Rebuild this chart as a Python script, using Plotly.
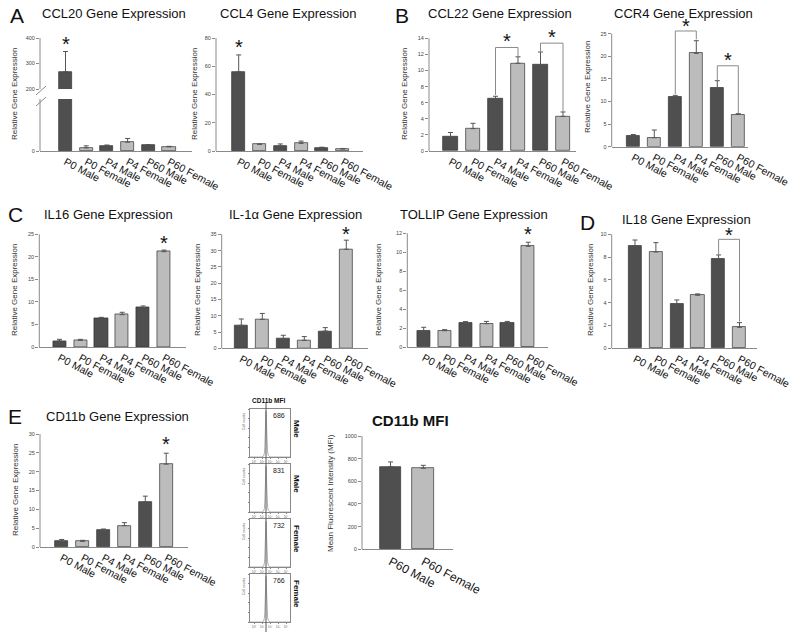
import plotly.graph_objects as go

# group labels
groups = ["P0 Male", "P0 Female", "P4 Male", "P4 Female", "P60 Male", "P60 Female"]
mfi_groups = ["P60 Male", "P60 Female"]

# relative gene expression (mean, sem)
ccl20 = [268, 6, 10, 17, 11.5, 8]
ccl20_sem = [79, 4, 1.5, 7, 1, 1]
ccl4 = [56.1, 4.7, 3.5, 5.4, 2.3, 1.4]
ccl4_sem = [11.9, 0.3, 1.5, 1.6, 0.4, 0.4]
ccl22 = [1.78, 2.78, 6.5, 10.9, 10.7, 4.3]
ccl22_sem = [0.52, 0.66, 0.3, 0.8, 1.6, 0.55]
ccr4 = [2.36, 1.99, 11.06, 20.65, 13.1, 7.15]
ccr4_sem = [0.34, 1.7, 0.3, 2.8, 1.5, 0.15]
il16 = [1.33, 1.48, 6.43, 7.17, 8.73, 21.15]
il16_sem = [0.37, 0.22, 0.15, 0.53, 0.37, 0.35]
il1a = [7.06, 8.9, 2.97, 2.46, 5.3, 30.4]
il1a_sem = [1.94, 1.8, 1.03, 1.14, 1.05, 2.8]
tollip = [1.69, 1.72, 2.6, 2.46, 2.6, 10.63]
tollip_sem = [0.39, 0.11, 0.08, 0.24, 0.1, 0.43]
il18 = [8.98, 8.45, 3.86, 4.65, 7.84, 1.84]
il18_sem = [0.52, 0.82, 0.38, 0.12, 0.35, 0.41]
cd11b = [1.5, 1.5, 4.5, 5.66, 11.95, 22.0]
cd11b_sem = [0.5, 0.27, 0.28, 0.8, 1.55, 2.9]
mfi = [729, 715]
mfi_sem = [42, 26]

# significance: star (category index, y) and brackets (left cat, right cat, left foot, top, right foot)
ccl20_star = [(0, 384)]
ccl4_star = [(0, 75)]
ccl22_star = [(2.5, 13.9), (4.5, 14.4)]
ccl22_brackets = [(2, 3, 6.97, 12.86, 11.74), (4, 5, 12.37, 13.4, 4.9)]
ccr4_star = [(2.5, 27.2), (4.5, 19.6)]
ccr4_brackets = [(2, 3, 11.65, 25.6, 23.75), (4, 5, 14.75, 17.9, 7.37)]
il16_star = [(5, 23.5)]
il1a_star = [(5, 35.8)]
tollip_star = [(5, 12.1)]
il18_star = [(4.5, 10.1)]
il18_brackets = [(4, 5, 8.25, 9.56, 2.34)]
cd11b_star = [(5, 28)]

# flow cytometry histograms (CD11b MFI)
flow_mfi = ["686", "831", "732", "766"]
flow_sex = ["Male", "Male", "Female", "Female"]
hist_channel = [0, 30, 34, 36, 37, 38, 39, 40, 41, 42, 43, 44, 46, 50, 100]
hist_counts = [0, 0, 2, 8, 20, 45, 75, 95, 80, 50, 25, 10, 3, 0, 0]

# the page body keeps its default 8px margin, so lay out on a 792x625 canvas
OFF = 8
W, H = 800 - OFF, 633 - OFF
FONT = "Arial, Liberation Sans, sans-serif"
DARK = "#4f4f4f"
LIGHT = "#bcbcbc"
AX = "#8a8a8a"

fig = go.Figure()
annos = []
shapes = []


def sid(n):
    return "" if n == 1 else str(n)


def px(x):
    return (x - OFF) / W


def py(y):
    return 1 - (y - OFF) / H


def line(x0, y0, x1, y1, color=AX, width=1):
    shapes.append(dict(type="line", xref="paper", yref="paper", x0=px(x0), y0=py(y0), x1=px(x1), y1=py(y1),
                       line=dict(color=color, width=width)))


def bar_trace(n, cats, vals, sems, yn=None, width=0.63):
    cols = [LIGHT if "Female" in c else DARK for c in cats]
    return go.Bar(
        x=cats, y=vals, xaxis="x" + sid(n), yaxis="y" + sid(yn or n),
        width=width, marker=dict(color=cols, line=dict(color="#333", width=0.7)),
        error_y=dict(type="data", symmetric=False, array=sems, arrayminus=[0] * len(sems),
                     color="#555", thickness=1, width=2.5),
        showlegend=False, hoverinfo="skip")


def x_axis(n, cats, left, c0, sp, right, yanchor, size=10.5):
    fig.layout["xaxis" + sid(n)] = dict(
        domain=[px(left), px(right)], range=[(left - c0) / sp, (right - c0) / sp],
        type="category", categoryarray=cats, anchor="y" + sid(yanchor), automargin=False,
        showline=True, linecolor=AX, linewidth=1, ticks="", showgrid=False, zeroline=False,
        tickangle=28, tickfont=dict(family=FONT, size=size, color="#111"), fixedrange=True)


def y_axis(n, xanchor, left, top, bottom, ymin, ymax, dtick, ext=None, tickvals=None):
    # top/bottom: pixel rows of ymax/ymin; ext: extra head-room above the last tick
    ext = ext or ymax
    scale = (bottom - top) / (ymax - ymin)
    dom_top = bottom - (ext - ymin) * scale
    d = dict(domain=[py(bottom), py(dom_top)], range=[ymin, ext], anchor="x" + sid(xanchor),
             automargin=False, showline=False, ticks="outside", ticklen=3,
             tickcolor=AX, tickwidth=1, dtick=dtick, showgrid=False, zeroline=False,
             tickfont=dict(family=FONT, size=5.5, color="#444"), fixedrange=True)
    if tickvals is not None:
        d["tickvals"] = tickvals
    fig.layout["yaxis" + sid(n)] = d
    line(left, bottom, left, top)


def stars(n, lst, yn=None):
    for xi, yv in lst:
        annos.append(dict(x=xi, y=yv, xref="x" + sid(n), yref="y" + sid(yn or n), text="*",
                          showarrow=False, font=dict(family=FONT, size=20, color="#111"),
                          yanchor="middle", yshift=-2))


def brackets(n, cats, lst):
    for a, b, ya, top, yb in lst:
        fig.add_trace(go.Scatter(
            x=[cats[a], cats[a], cats[b], cats[b]], y=[ya, top, top, yb],
            xaxis="x" + sid(n), yaxis="y" + sid(n), mode="lines",
            line=dict(color="#8a8a8a", width=1), showlegend=False, hoverinfo="skip"))


def text(x, y, s, size, angle=0, bold=False, color="#111", xanchor="center"):
    if bold:
        s = "<b>" + s + "</b>"
    annos.append(dict(x=px(x), y=py(y), xref="paper", yref="paper", text=s, showarrow=False,
                      textangle=angle, xanchor=xanchor, yanchor="middle",
                      font=dict(family=FONT, size=size, color=color)))


def panel(n, vals, sems, left, c0, sp, right, top, bottom, ymax, dtick, ext, star, br=None):
    fig.add_trace(bar_trace(n, groups, vals, sems))
    x_axis(n, groups, left, c0, sp, right, n)
    y_axis(n, n, left, top, bottom, 0, ymax, dtick, ext)
    stars(n, star)
    if br:
        brackets(n, groups, br)


# --- A: CCL20 with broken axis (lower 1, upper 11)
fig.add_trace(bar_trace(1, groups, ccl20, ccl20_sem))
fig.add_trace(bar_trace(1, groups, ccl20, ccl20_sem, yn=11))
x_axis(1, groups, 40, 65.5, 20.7, 192, 1)
y_axis(1, 1, 40, 99, 151, 0, 100, None, tickvals=[0])
y_axis(11, 1, 40, 38, 89, 200, 400, 100)
stars(1, ccl20_star, yn=11)
line(36, 95, 46, 86)
line(36, 106, 46, 97)

# CCL4
panel(2, ccl4, ccl4_sem, 216, 238.7, 20.8, 363, 38, 151, 80, 20, 80, ccl4_star)
# B: CCL22, CCR4
panel(3, ccl22, ccl22_sem, 429, 450.5, 22.5, 576, 38.3, 151, 14, 2, 15.2, ccl22_star, ccl22_brackets)
panel(4, ccr4, ccr4_sem, 611.7, 633.3, 21, 748, 33.7, 146.7, 25, 5, 28.5, ccr4_star, ccr4_brackets)
# C: IL16, IL-1a, TOLLIP
panel(5, il16, il16_sem, 39.3, 59.5, 20.9, 186, 234.3, 347, 25, 5, 25, il16_star)
panel(6, il1a, il1a_sem, 221.7, 241.3, 21, 368, 234.3, 348.3, 35, 5, 38, il1a_star)
panel(7, tollip, tollip_sem, 407.3, 423.7, 20.9, 548, 233.3, 347, 12, 2, 13, tollip_star)
# D: IL18
panel(8, il18, il18_sem, 611.7, 635, 20.9, 757, 234.3, 348.3, 10, 2, 11, il18_star, il18_brackets)
# E: CD11b
panel(9, cd11b, cd11b_sem, 40, 61.7, 20.9, 188, 434, 547, 30, 5, 30, cd11b_star)
# CD11b MFI
fig.add_trace(bar_trace(10, mfi_groups, mfi, mfi_sem, width=0.66))
x_axis(10, mfi_groups, 362, 390.5, 32.8, 453, 10, size=12)
y_axis(10, 10, 362, 436, 549.3, 0, 1000, 200)

# flow histograms
box_tops = [409, 464, 519, 574]
for i, top in enumerate(box_tops):
    n = 20 + i
    fig.add_trace(go.Scatter(x=hist_channel, y=hist_counts, xaxis="x" + sid(n), yaxis="y" + sid(n),
                             mode="lines", line=dict(color="#9a9a9a", width=0.8),
                             showlegend=False, hoverinfo="skip"))
    fig.layout["xaxis" + sid(n)] = dict(
        domain=[px(250), px(290)], range=[0, 100], anchor="y" + sid(n), showline=True, mirror=True,
        linecolor="#888", linewidth=0.8, ticks="outside", ticklen=1.5, tickcolor="#888", automargin=False,
        tickvals=[10, 30, 50, 70, 90], ticktext=["10⁰", "10¹", "10²", "10³", "10⁴"],
        tickfont=dict(family=FONT, size=3, color="#666"), showgrid=False, zeroline=False, fixedrange=True)
    fig.layout["yaxis" + sid(n)] = dict(
        domain=[py(top + 48), py(top)], range=[0, 100], anchor="x" + sid(n), showline=True, mirror=True,
        linecolor="#888", linewidth=0.8, ticks="outside", ticklen=1.5, tickcolor="#888", automargin=False,
        tickvals=[0, 20, 40, 60, 80, 100], showticklabels=False,
        showgrid=False, zeroline=False, fixedrange=True)
    text(279, top + 6, flow_mfi[i], 7, color="#222")
    text(297, top + 20, flow_sex[i], 8, angle=90, bold=True)
    text(244, top + 12, "Cell counts", 3.5, angle=-90, color="#555")
line(266, 403, 266, 632, color="#555")
text(268, 400, "CD11b MFI", 6.5, bold=True)

# panel letters
for s, x, y in [("A", 16.5, 15.5), ("B", 402, 15.5), ("C", 15, 215), ("D", 587.5, 222), ("E", 15, 416)]:
    text(x, y, s, 21)

# titles
for s, x, y in [("CCL20 Gene Expression", 114, 13.5), ("CCL4 Gene Expression", 288, 13.5),
                ("CCL22 Gene Expression", 500, 13.5), ("CCR4 Gene Expression", 683, 13.5),
                ("IL16 Gene Expression", 109, 214.5), ("IL-1α Gene Expression", 295, 214),
                ("TOLLIP Gene Expression", 474, 214), ("IL18 Gene Expression", 686, 219),
                ("CD11b Gene Expression", 117.5, 416)]:
    text(x, y, s, 13)
text(410, 420, "CD11b MFI", 15, bold=True)

# y titles
for x, y in [(15, 94), (195, 94), (405, 94), (587, 87), (14, 290), (197, 290), (378, 290),
             (590, 290), (15, 490)]:
    text(x, y, "Relative Gene Expression", 8, angle=-90, color="#333")
text(330, 493, "Mean Fluorescent Intensity (MFI)", 8, angle=-90, color="#333")

fig.update_layout(template="none", width=W, height=H, margin=dict(l=0, r=0, t=0, b=0, pad=0),
                  plot_bgcolor="white", paper_bgcolor="white", annotations=annos, shapes=shapes,
                  bargap=0, font=dict(family=FONT))
fig.write_html("out.html")
